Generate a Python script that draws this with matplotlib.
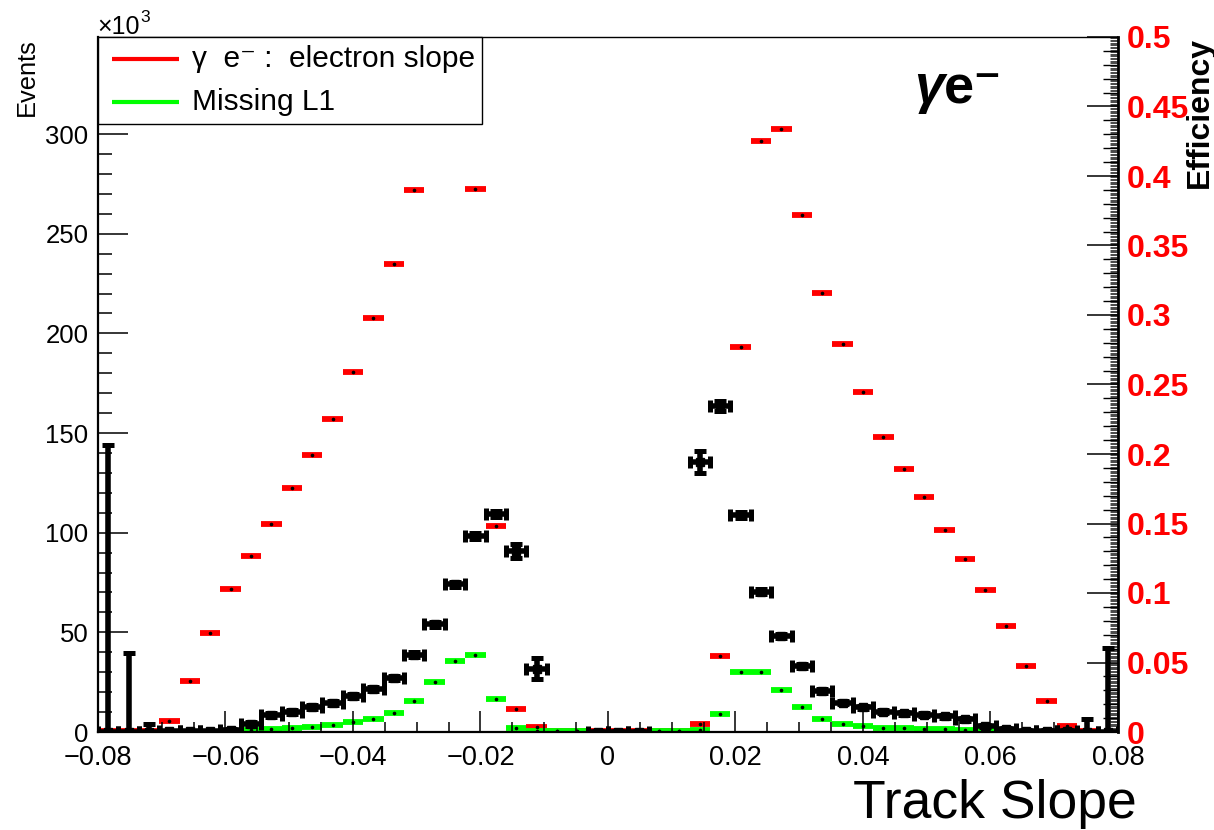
import numpy as np
import matplotlib
matplotlib.use("Agg")
import matplotlib.pyplot as plt
from matplotlib.lines import Line2D
from matplotlib.patches import Rectangle

plt.rcParams['font.family'] = ['Liberation Sans', 'DejaVu Sans']
plt.rcParams['lines.solid_capstyle'] = 'butt'

# ---- binning of the track-slope histogram ----
x_min, x_max, n_bins = -0.08, 0.08, 50

# events per bin (x10^3) and their uncertainties
events_k = [0.2, 0.2, 0.2, 0.3, 0.3, 0.3, 0.8, 4.0, 8.3, 10.2,
            12.4, 14.7, 18.2, 21.7, 27.1, 38.8, 54.1, 74.1, 98.3, 109.2,
            90.9, 31.7, np.nan, np.nan, 0.2, 0.2, 0.2, np.nan, np.nan, 135.5,
            163.6, 108.9, 70.4, 48.1, 33.0, 20.7, 14.7, 12.3, 10.2, 9.3,
            8.6, 7.9, 6.4, 2.9, 1.4, 0.5, 0.5, 0.5, 0.2, 0.2]
events_err_k = [144.0, 39.5, 3.8, 0.3, 0.3, 0.3, 0.5, 0.8, 1.0, 1.0,
                1.0, 1.0, 1.0, 1.0, 1.2, 1.2, 1.2, 1.3, 1.5, 1.5,
                3.5, 5.3, 0.0, 0.0, 0.2, 0.2, 0.2, 0.0, 0.0, 5.7,
                2.5, 1.5, 1.2, 1.0, 1.0, 1.0, 0.8, 0.8, 0.8, 0.8,
                0.8, 0.8, 0.8, 0.6, 0.5, 0.4, 0.4, 0.4, 6.5, 42.0]

# efficiency: electron slope
eff_electron = [0.0005, 0.0005, 0.0005, 0.0079, 0.0367, 0.0712, 0.1029, 0.1266, 0.1496, 0.1755,
                0.1993, 0.2252, 0.2590, 0.2978, 0.3367, 0.3900, np.nan, np.nan, 0.3910, 0.1480,
                0.0168, 0.0033, 0.0005, 0.0005, 0.0005, 0.0005, 0.0005, 0.0005, 0.0005, 0.0060,
                0.0546, 0.2769, 0.4255, 0.4337, 0.3717, 0.3160, 0.2793, 0.2443, 0.2120, 0.1894,
                0.1688, 0.1456, 0.1248, 0.1024, 0.0763, 0.0477, 0.0221, 0.0045, 0.0005, np.nan]

# efficiency: missing L1
eff_missing_l1 = [np.nan, np.nan, np.nan, np.nan, np.nan, np.nan, 0.0005, 0.0014, 0.0020, 0.0031,
                  0.0038, 0.0050, 0.0070, 0.0094, 0.0136, 0.0222, 0.0357, 0.0509, 0.0555, 0.0238,
                  0.0028, 0.0008, 0.0008, 0.0008, np.nan, np.nan, np.nan, 0.0008, 0.0008, 0.0014,
                  0.0132, 0.0435, 0.0435, 0.0300, 0.0179, 0.0094, 0.0059, 0.0044, 0.0032, 0.0026,
                  0.0021, 0.0018, 0.0012, 0.0009, np.nan, np.nan, np.nan, np.nan, np.nan, np.nan]

legend_labels = ["γ  e⁻ :  electron slope", "Missing L1"]
series_colors = ["#ff0000", "#00ff00"]

x_ticks = [-0.08, -0.06, -0.04, -0.02, 0.0, 0.02, 0.04, 0.06, 0.08]
x_tick_labels = ["−0.08", "−0.06", "−0.04", "−0.02", "0", "0.02", "0.04", "0.06", "0.08"]
events_ticks = [0, 50, 100, 150, 200, 250, 300]
eff_ticks = [0, 0.05, 0.1, 0.15, 0.2, 0.25, 0.3, 0.35, 0.4, 0.45, 0.5]
eff_tick_labels = ["0", "0.05", "0.1", "0.15", "0.2", "0.25", "0.3", "0.35", "0.4", "0.45", "0.5"]

W, H = 1214, 830
fig = plt.figure(figsize=(W / 100, H / 100), dpi=100)
ax = fig.add_axes([98 / W, 98 / H, 1020 / W, 695 / H])
ax2 = ax.twinx()
ax3 = ax.twinx()

edges = np.linspace(x_min, x_max, n_bins + 1)
centers = 0.5 * (edges[:-1] + edges[1:])
half = 0.5 * (edges[1] - edges[0])

# ---- efficiency curves (right axis) ----
for vals, col in zip([eff_electron, eff_missing_l1], series_colors):
    ax2.errorbar(centers, np.asarray(vals, float), xerr=half, fmt='o', ms=1.6,
                 mfc='black', mec='black', ecolor=col, elinewidth=4.2, capsize=0)

# ---- event histogram (left axis) ----
ax.errorbar(centers, np.asarray(events_k, float), xerr=half, yerr=np.asarray(events_err_k, float),
            fmt='s', ms=6, color='black', elinewidth=4.0, capsize=4.0, capthick=3.6)

# black histogram drawn above the efficiency layers
ax.set_zorder(ax2.get_zorder() + 2)
ax.patch.set_visible(False)

ax.set_xlim(x_min, x_max)
ax.set_ylim(0, 348.7)
ax2.set_ylim(0, 0.5)
ax3.set_ylim(0, 0.5)

# left axis
ax.set_yticks(events_ticks)
ax.set_yticklabels([str(v) for v in events_ticks])
ax.set_yticks(np.arange(0, 341, 10), minor=True)
ax.tick_params(axis='y', which='major', direction='in', length=21.6, width=1.1,
               labelsize=18.5, pad=7, left=True, right=False)
ax.tick_params(axis='y', which='minor', direction='in', length=10, width=1.1,
               left=True, right=False)

# bottom axis
ax.set_xticks(x_ticks)
ax.set_xticklabels(x_tick_labels)
ax.set_xticks(np.arange(x_min, x_max + 1e-9, 0.005), minor=True)
ax.tick_params(axis='x', which='major', direction='in', length=15, width=1.1,
               labelsize=19.5, pad=9, top=False)
ax.tick_params(axis='x', which='minor', direction='in', length=7.5, width=1.1, top=False)

# right (efficiency) axis
ax2.set_yticks(eff_ticks)
ax2.set_yticklabels(eff_tick_labels)
ax2.set_yticks(np.arange(0, 0.5001, 0.01), minor=True)
ax2.tick_params(axis='y', which='major', direction='in', length=22, width=1.1,
                labelsize=23, pad=6, labelcolor='#ff0000')
ax2.tick_params(axis='y', which='minor', direction='in', length=10.5, width=1.0)
for lab in ax2.get_yticklabels():
    lab.set_fontweight('bold')

# fine ticks on the efficiency axis
ax3.set_yticks(np.arange(0, 0.5001, 0.001))
ax3.set_yticklabels([])
ax3.tick_params(axis='y', which='major', direction='in', length=6, width=0.5,
                right=True, left=False, labelright=False)
for s in ax3.spines.values():
    s.set_visible(False)

for a in (ax, ax2):
    for s in a.spines.values():
        s.set_visible(False)
ax.spines['left'].set_visible(True)
ax.spines['left'].set_linewidth(1.6)
ax.spines['bottom'].set_visible(True)
ax.spines['bottom'].set_linewidth(1.6)
ax.spines['top'].set_visible(True)
ax.spines['top'].set_linewidth(1.0)
ax2.spines['right'].set_visible(True)
ax2.spines['right'].set_linewidth(2.0)

# axis titles
fig.text(27 / W, 1 - 38 / H, "Events", rotation=90, ha='center', va='top', fontsize=18.4)
fig.text(1200 / W, 1 - 37 / H, "Efficiency", rotation=90, ha='center', va='top',
         fontsize=23, fontweight='bold')
fig.text(97 / W, 1 - 34 / H, "×10", ha='left', va='baseline', fontsize=18)
fig.text(140 / W, 1 - 22 / H, "3", ha='left', va='baseline', fontsize=12.5)
fig.text(1137 / W, 1 - 818 / H, "Track Slope", ha='right', va='baseline', fontsize=38.5)
fig.text(914 / W, 1 - 103 / H, "γ", ha='left', va='baseline', fontsize=39,
         fontweight='bold', fontstyle='italic')
fig.text(944 / W, 1 - 103 / H, "e⁻", ha='left', va='baseline', fontsize=39,
         fontweight='bold')

# legend box
box = Rectangle((98 / W, 1 - 124 / H), 384 / W, 87 / H, transform=fig.transFigure,
                facecolor='white', edgecolor='black', lw=1.0, zorder=10)
fig.patches.append(box)
for k, (lab, col) in enumerate(zip(legend_labels, series_colors)):
    yy = 1 - (59 + 43 * k) / H
    fig.lines.append(Line2D([112 / W, 179 / W], [yy, yy], transform=fig.transFigure,
                            color=col, lw=3.0, zorder=11))
    fig.text(192 / W, yy, lab, ha='left', va='center', fontsize=21.5, zorder=12)

fig.savefig("out.png", dpi=100)
